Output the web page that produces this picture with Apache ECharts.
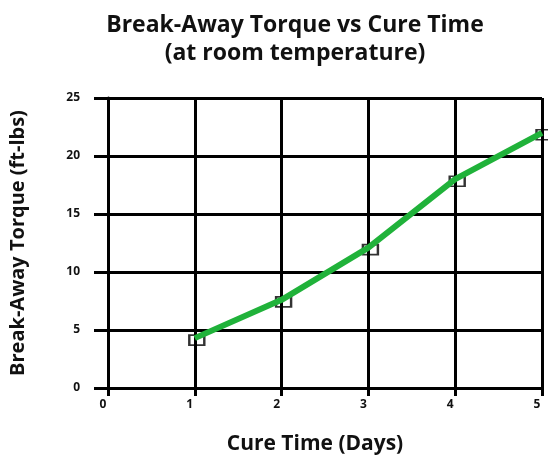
<!DOCTYPE html>
<html>
<head>
<meta charset="utf-8">
<script src="https://cdn.jsdelivr.net/npm/echarts@6/dist/echarts.min.js"></script>
<style>
  html, body { margin: 0; padding: 0; background: #fff; }
  #chart { width: 548px; height: 460px; }
</style>
</head>
<body>
<div id="chart"></div>
<script>
// data
const cureDays = [1, 2, 3, 4, 5];
const torque = [4.3, 7.6, 12.1, 18.0, 22.0];
const xTicks = [0, 1, 2, 3, 4, 5];
const yTicks = [0, 5, 10, 15, 20, 25];

const points = cureDays.map((d, i) => [d, torque[i]]);
const font = '"Open Sans", sans-serif';

const chart = echarts.init(document.getElementById('chart'));
chart.setOption({
  animation: false,
  title: {
    text: 'Break-Away Torque vs Cure Time\n(at room temperature)',
    left: 290,
    top: 6,
    textAlign: 'center',
    textStyle: {
      fontFamily: font,
      fontWeight: 'bold',
      fontSize: 23,
      lineHeight: 28,
      color: '#111'
    }
  },
  grid: { left: 103, right: 6, top: 98, bottom: 65, containLabel: false },
  xAxis: {
    type: 'value',
    min: xTicks[0],
    max: xTicks[xTicks.length - 1],
    interval: 1,
    name: 'Cure Time (Days)',
    nameLocation: 'middle',
    nameGap: 46,
    nameTextStyle: { fontFamily: font, fontWeight: 'bold', fontSize: 21, color: '#111', padding: [0, 20, 0, 0] },
    axisLine: { show: true, lineStyle: { color: '#000', width: 3 } },
    axisTick: { show: true, length: 8, lineStyle: { color: '#000', width: 3 } },
    axisLabel: { margin: 11, padding: [0, 10, 0, 0], fontFamily: font, fontWeight: 'bold', fontSize: 12, color: '#111' },
    splitLine: { show: true, lineStyle: { color: '#000', width: 3 } }
  },
  yAxis: {
    type: 'value',
    min: yTicks[0],
    max: yTicks[yTicks.length - 1],
    interval: 5,
    name: 'Break-Away Torque (ft-lbs)',
    nameLocation: 'middle',
    nameGap: 80,
    nameTextStyle: { fontFamily: font, fontWeight: 'bold', fontSize: 20, color: '#111' },
    axisLine: { show: true, lineStyle: { color: '#000', width: 3 } },
    axisTick: { show: true, length: 14, lineStyle: { color: '#000', width: 3 } },
    axisLabel: { margin: 28, padding: [0, 0, 4, 0], fontFamily: font, fontWeight: 'bold', fontSize: 12, color: '#111' },
    splitLine: { show: true, lineStyle: { color: '#000', width: 3 } }
  },
  series: [
    {
      // hollow square markers, drawn under the line
      type: 'scatter',
      data: points,
      symbol: 'rect',
      symbolSize: [15, 10],
      symbolOffset: [2, 2],
      z: 1,
      itemStyle: { color: 'transparent', borderColor: '#000', borderWidth: 2 }
    },
    {
      type: 'line',
      data: points,
      showSymbol: false,
      z: 3,
      lineStyle: { color: '#20b23a', width: 6 }
    }
  ]
});
</script>
</body>
</html>
